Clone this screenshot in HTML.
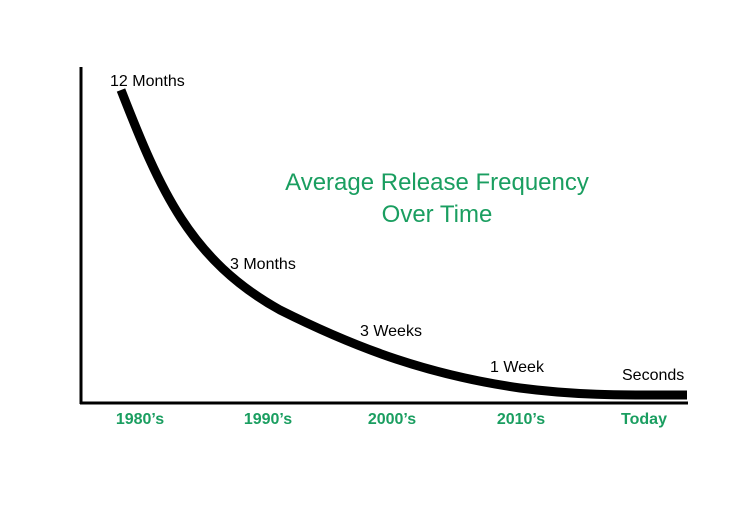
<!DOCTYPE html>
<html><head><meta charset="utf-8"><style>
html,body{margin:0;padding:0;background:#fff;width:750px;height:508px;overflow:hidden}
</style></head><body>
<svg width="750" height="508" xmlns="http://www.w3.org/2000/svg" font-family="Liberation Sans, sans-serif">
<line x1="81" y1="67" x2="81" y2="404" stroke="#000" stroke-width="3"/>
<line x1="80" y1="403" x2="688" y2="403" stroke="#000" stroke-width="3"/>
<path d="M121,90 C160,190 190,260 280,310 C360,350 430,375 520,388 C580,396 630,395 687,395" fill="none" stroke="#000" stroke-width="9"/>
<g font-size="16" fill="#000">
<text x="110" y="86">12 Months</text>
<text x="230" y="269">3 Months</text>
<text x="360" y="336">3 Weeks</text>
<text x="490" y="372">1 Week</text>
<text x="622" y="380">Seconds</text>
</g>
<g font-size="16" font-weight="bold" fill="#1a9e60" text-anchor="middle">
<text x="140" y="424">1980’s</text>
<text x="268" y="424">1990’s</text>
<text x="392" y="424">2000’s</text>
<text x="521" y="424">2010’s</text>
<text x="644" y="424">Today</text>
</g>
<g font-size="24" fill="#1a9e60" text-anchor="middle">
<text x="437" y="190">Average Release Frequency</text>
<text x="437" y="222">Over Time</text>
</g>
</svg>
</body></html>
